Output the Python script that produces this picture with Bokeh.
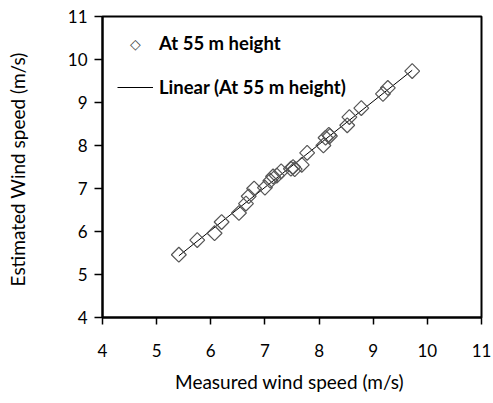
import numpy as np
from bokeh.plotting import figure
from bokeh.models import Legend, LegendItem, FixedTicker, Range1d, CDSView, IndexFilter, ColumnDataSource, Label
from bokeh.embed import file_html
from bokeh.resources import INLINE

measured = [5.41, 5.75, 6.07, 6.20, 6.52, 6.65, 6.70, 6.80, 7.00, 7.10, 7.15, 7.22,
            7.30, 7.48, 7.52, 7.55, 7.68, 7.78, 8.08, 8.12, 8.18, 8.20, 8.52, 8.56,
            8.78, 9.18, 9.27, 9.72]
estimated = [5.46, 5.80, 5.96, 6.22, 6.43, 6.65, 6.82, 7.00, 7.02, 7.18, 7.28, 7.30,
             7.40, 7.46, 7.50, 7.45, 7.55, 7.83, 8.00, 8.18, 8.25, 8.22, 8.47, 8.66,
             8.87, 9.20, 9.34, 9.73]
ticks = [4, 5, 6, 7, 8, 9, 10, 11]

slope, intercept = np.polyfit(measured, estimated, 1)
fit_x = [min(measured), max(measured)]
fit_y = [slope * v + intercept for v in fit_x]

src = ColumnDataSource(data=dict(x=measured, y=estimated))

p = figure(width=493, height=403, output_backend="svg", toolbar_location=None,
           x_range=Range1d(4, 11), y_range=Range1d(4, 11),
           min_border_left=102, min_border_right=12, min_border_top=16, min_border_bottom=86)
p.grid.visible = False
p.background_fill_color = "white"
p.border_fill_color = "white"
p.outline_line_color = "black"
p.outline_line_width = 2

for ax in (p.xaxis[0], p.yaxis[0]):
    ax.ticker = FixedTicker(ticks=ticks)
    ax.axis_line_color = "black"
    ax.axis_line_width = 2
    ax.major_tick_line_color = "black"
    ax.major_tick_line_width = 1.5
    ax.major_tick_in = 0
    ax.minor_tick_line_color = None
    ax.major_label_text_font = "Lato"
    ax.major_label_text_font_size = "17px"
    ax.major_label_text_color = "black"
    ax.axis_label_text_font = "Lato"
    ax.axis_label_text_font_size = "19px"
    ax.axis_label_text_font_style = "normal"
    ax.axis_label_text_color = "black"

p.xaxis.major_tick_out = 7
p.yaxis.major_tick_out = 8
p.xaxis.major_label_standoff = 19
p.yaxis.major_label_standoff = 7
p.xaxis.axis_label = "Measured wind speed  (m/s)"
p.yaxis.axis_label = "Estimated Wind speed  (m/s)"
p.xaxis.axis_label_standoff = 10
p.yaxis.axis_label_standoff = 36

line_r = p.line(fit_x, fit_y, line_color="black", line_width=1)
pts_r = p.scatter("x", "y", source=src, marker="square", angle=np.pi / 4, size=10.5,
                  fill_color="white", fill_alpha=0.0, line_color="#555555", line_width=1.2)
proxy_r = p.scatter("x", "y", source=src, view=CDSView(filter=IndexFilter(indices=[])),
                    marker="diamond", size=12, fill_color="white",
                    line_color="#444444", line_width=1.2)

legend = Legend(items=[LegendItem(label="At 55 m height", renderers=[proxy_r]),
                       LegendItem(label="Linear (At 55 m height)", renderers=[line_r])],
                location=(15, 219), orientation="vertical",
                border_line_color=None, background_fill_alpha=0.0,
                padding=0, margin=0, spacing=22, glyph_width=36, glyph_height=22,
                label_height=22, label_standoff=6,
                label_text_font="Lato", label_text_font_size="18.5px",
                label_text_font_style="bold", label_text_color="black")
p.add_layout(legend, "center")

# legend symbol for the data series (white diamond)
p.add_layout(Label(x=33, y=274, x_units="screen", y_units="screen", text="\u25c7",
                   text_font="DejaVu Sans", text_font_size="14px", text_color="#444444",
                   text_align="center", text_baseline="middle"))

open("out.html", "w").write(file_html(p, INLINE))
